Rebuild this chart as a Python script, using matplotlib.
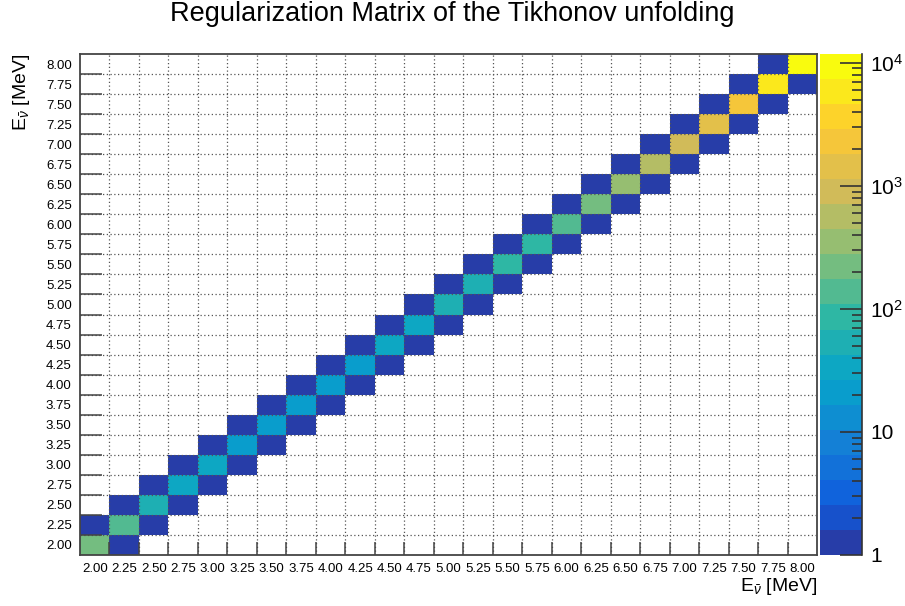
import numpy as np
import matplotlib
matplotlib.use('Agg')
import matplotlib.pyplot as plt
from matplotlib.colors import LogNorm, ListedColormap, LinearSegmentedColormap
from matplotlib.ticker import LogLocator, FixedLocator, NullFormatter

plt.rcParams['font.family'] = ['Liberation Sans', 'DejaVu Sans']
plt.rcParams['mathtext.fontset'] = 'custom'
plt.rcParams['mathtext.rm'] = 'Liberation Sans'
plt.rcParams['mathtext.it'] = 'Liberation Sans:italic'

# Etiquetas de los bines de energia (MeV)
energias = ['2.00', '2.25', '2.50', '2.75', '3.00', '3.25', '3.50', '3.75', '4.00',
            '4.25', '4.50', '4.75', '5.00', '5.25', '5.50', '5.75', '6.00', '6.25',
            '6.50', '6.75', '7.00', '7.25', '7.50', '7.75', '8.00']

# Elementos de la matriz de regularizacion
diagonal = [210, 140, 55, 36, 30, 24, 21, 20, 21, 25, 29, 35, 48, 62, 80, 100,
            140, 210, 330, 540, 880, 1400, 2600, 6200, 11800]
diag_inferior = [1, 1, 1, 1, 1, 1, 1, 1, 1, 1, 1, 1, 1, 1, 1, 1, 1, 1, 1, 1, 1, 1, 1, 1]
diag_superior = [1, 1, 1, 1, 1, 1, 1, 1, 1, 1, 1, 1, 1, 1, 1, 1, 1, 1, 1, 1, 1, 1, 1, 1]

n = len(energias)
matriz = np.diag(np.array(diagonal, float))
matriz += np.diag(np.array(diag_inferior, float), -1)
matriz += np.diag(np.array(diag_superior, float), 1)
matriz = np.ma.masked_where(matriz <= 0, matriz)

# Paleta kBird de ROOT con 20 niveles
stops = [0.0, 0.125, 0.25, 0.375, 0.5, 0.625, 0.75, 0.875, 1.0]
rojo = [0.2082, 0.0592, 0.0780, 0.0232, 0.1802, 0.5301, 0.8186, 0.9956, 0.9764]
verde = [0.1664, 0.3599, 0.5041, 0.6419, 0.7178, 0.7492, 0.7328, 0.7862, 0.9832]
azul = [0.5293, 0.8684, 0.8385, 0.7914, 0.6425, 0.4662, 0.3499, 0.1968, 0.0539]
bird = LinearSegmentedColormap.from_list(
    'bird', list(zip(stops, zip(rojo, verde, azul))), N=255)
niveles = 20
colores = [bird(int((k + 0.99) * 255 / niveles) / 254) for k in range(niveles)]
cmap = ListedColormap(colores)
norm = LogNorm(vmin=1, vmax=max(diagonal))

fig = plt.figure(figsize=(9.05, 6.06), dpi=100)
ax = fig.add_axes([0.0884, 0.0842, 0.8144, 0.8267])
cax = fig.add_axes([0.9061, 0.0842, 0.0464, 0.8267])

bordes = np.arange(n + 1)
malla = ax.pcolormesh(bordes, bordes, matriz, cmap=cmap, norm=norm)
ax.set_xlim(0, n)
ax.set_ylim(0, n)

# Marcas en los bordes de bin, etiquetas en el centro
centros = np.arange(n) + 0.5
ax.set_xticks(bordes[1:-1])
ax.set_yticks(bordes[1:-1])
ax.set_xticklabels([])
ax.set_yticklabels([])
ax.set_xticks(centros, labels=energias, minor=True)
ax.set_yticks(centros, labels=energias, minor=True)
ax.tick_params(which='minor', length=0, labelsize=9.5)
ax.tick_params(axis='x', which='minor', pad=6)
ax.tick_params(axis='y', which='minor', pad=6)
ax.tick_params(axis='x', which='major', direction='in', length=9.5, width=1.1, color='#444')
ax.tick_params(axis='y', which='major', direction='in', length=16, width=1.1, color='#444')
ax.grid(True, which='major', linestyle=(0, (1, 2)), color='#555', linewidth=0.9)
ax.set_axisbelow(False)
for s in ax.spines.values():
    s.set_color('#444')
    s.set_linewidth(1.3)

# Barra de colores
cb = fig.colorbar(malla, cax=cax)
cb.outline.set_visible(False)
cax.yaxis.set_major_locator(FixedLocator([1, 10, 100, 1000, 10000]))
cax.yaxis.set_major_formatter(plt.FixedFormatter(['1', '10', '$10^{2}$', '$10^{3}$', '$10^{4}$']))
cax.yaxis.set_minor_locator(LogLocator(base=10, subs=np.arange(2, 10)))
cax.yaxis.set_minor_formatter(NullFormatter())
cax.tick_params(which='major', direction='in', length=16, width=1.2, color='#333',
                labelsize=15, pad=6)
cax.tick_params(which='minor', direction='in', length=7.5, width=1.2, color='#333')
cax.plot([1, 1], [0, 1], transform=cax.transAxes, color='#333', lw=1.2, clip_on=False)

fig.text(0.5, 1 - 21 / 606, 'Regularization Matrix of the Tikhonov unfolding',
         ha='center', va='baseline', fontsize=19.5)
fig.text(817 / 905, 1 - 576 / 606, r'E$_{\bar{\nu}}$ [MeV]', ha='right', va='top', fontsize=14)
fig.text(22 / 905, 1 - 54 / 606, r'E$_{\bar{\nu}}$ [MeV]', ha='center', va='top',
         rotation=90, fontsize=14)

fig.savefig('out.png', dpi=100)
